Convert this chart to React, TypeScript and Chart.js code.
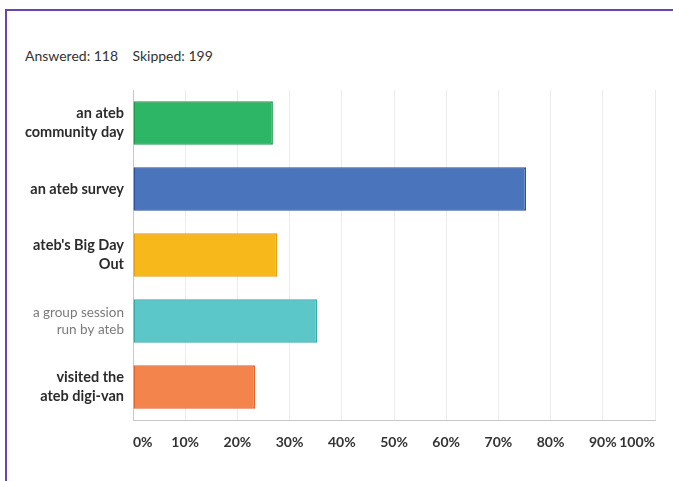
import React, { useEffect, useRef } from "react";
import { Chart, registerables } from "chart.js";

Chart.register(...registerables);

const categories: (string | string[])[] = [
  ["an ateb", "community day"],
  "an ateb survey",
  ["ateb's Big Day", "Out"],
  ["a group session", "run by ateb"],
  ["visited the", "ateb digi-van"],
];
const values = [26.8, 75.3, 27.6, 35.3, 23.4];
const barColors = ["#2db665", "#4a74bb", "#f7b81b", "#5cc7c9", "#f3844c"];
const borderColors = ["#1e9a4d", "#2b4f9c", "#e99d12", "#35a9ac", "#e8622b"];
const xTicks = [0, 10, 20, 30, 40, 50, 60, 70, 80, 90, 100];
const answered = 118;
const skipped = 199;

export default function App() {
  const ref = useRef<HTMLCanvasElement | null>(null);
  useEffect(() => {
    if (!ref.current) return;
    const chart = new Chart(ref.current, {
      type: "bar",
      data: {
        labels: categories,
        datasets: [
          {
            data: values,
            backgroundColor: barColors,
            borderColor: borderColors,
            borderWidth: 1.5,
            borderSkipped: false,
            categoryPercentage: 0.66,
            barPercentage: 1,
          },
        ],
      },
      options: {
        indexAxis: "y",
        animation: false,
        responsive: false,
        maintainAspectRatio: false,
        layout: { padding: { left: 0, right: 18, top: 90, bottom: 20 } },
        plugins: { legend: { display: false }, tooltip: { enabled: false }, title: { display: false } },
        scales: {
          x: {
            min: 0,
            max: 100,
            afterBuildTicks: (axis: any) => {
              axis.ticks = xTicks.map((v) => ({ value: v }));
            },
            afterFit: (axis: any) => {
              axis.height = 41;
              axis.paddingRight = 0;
              axis.paddingLeft = 0;
            },
            grid: { color: "#ebebeb", lineWidth: 1, drawTicks: false },
            border: { color: "#c8c8c8", width: 1 },
            ticks: {
              padding: 14,
              align: "inner",
              color: "#333333",
              font: { family: "Lato", size: 14, weight: "bold" },
              callback: (v: any) => v + "%",
              maxRotation: 0,
              autoSkip: false,
            },
          },
          y: {
            afterFit: (axis: any) => {
              axis.width = 133;
            },
            grid: { display: false, drawTicks: false },
            border: { color: "#c8c8c8", width: 1 },
            ticks: {
              padding: 9,
              color: (ctx: any) => (ctx.index === 3 ? "#7a7a7a" : "#2b2b2b"),
              font: (ctx: any) =>
                ctx.index === 3
                  ? { family: "Lato", size: 13.5, weight: "normal", lineHeight: 1.3 }
                  : { family: "Lato", size: 14.5, weight: "bold", lineHeight: 1.3 },
            },
          },
        },
      },
    });
    return () => chart.destroy();
  }, []);

  return (
    <div style={{ position: "absolute", left: 0, top: 0, width: 673, height: 481, background: "#ffffff", overflow: "hidden" }}>
      <div
        style={{
          position: "absolute",
          left: 5,
          top: 9,
          width: 680,
          height: 480,
          borderTop: "2px solid #6b43b3",
          borderLeft: "2px solid #6b43b3",
        }}
      />
      <div
        style={{
          position: "absolute",
          left: 25,
          top: 47,
          fontFamily: "Lato",
          fontSize: 14,
          color: "#333333",
          whiteSpace: "pre",
        }}
      >
        {`Answered: ${answered}    Skipped: ${skipped}`}
      </div>
      <canvas ref={ref} width={673} height={481} style={{ position: "absolute", left: 0, top: 0, width: 673, height: 481 }} />
    </div>
  );
}
